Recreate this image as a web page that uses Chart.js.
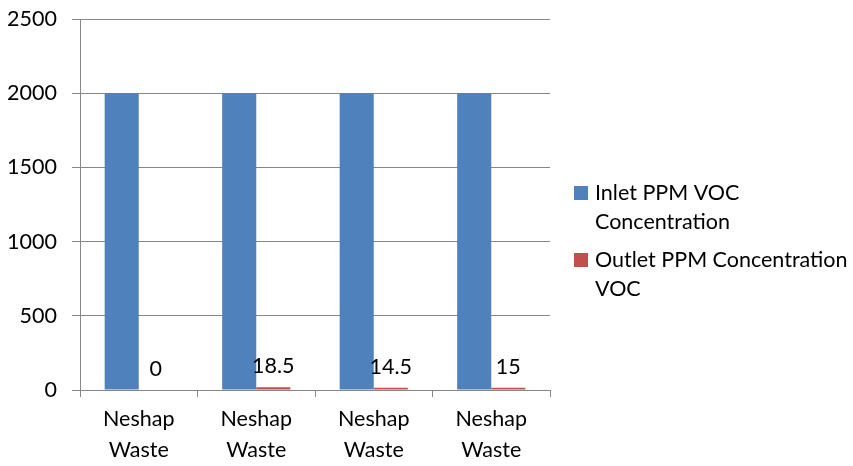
<!DOCTYPE html>
<html>
<head>
<meta charset="utf-8">
<script src="https://cdn.jsdelivr.net/npm/chart.js@4"></script>
<style>
  html, body { margin: 0; padding: 0; background: #fff; }
  #wrap { width: 853px; height: 466px; position: relative; }
</style>
</head>
<body>
<div id="wrap"><canvas id="chart"></canvas></div>
<script>
// data
const categories = [['Neshap', 'Waste'], ['Neshap', 'Waste'], ['Neshap', 'Waste'], ['Neshap', 'Waste']];
const inletValues = [2000, 2000, 2000, 2000];
const outletValues = [0, 18.5, 14.5, 15];
const seriesNames = [['Inlet PPM VOC', 'Concentration'], ['Outlet PPM Concentration', 'VOC']];
const yTicks = [0, 500, 1000, 1500, 2000, 2500];

const FONT = 'Lato, "Liberation Sans", sans-serif';
const FS = 21.5;
const colors = ['#4F81BD', '#C0504D'];

// value labels above the outlet bars
const valueLabels = {
  id: 'valueLabels',
  afterDatasetsDraw(chart) {
    const ctx = chart.ctx;
    const meta = chart.getDatasetMeta(1);
    ctx.save();
    ctx.font = FS + 'px ' + FONT;
    ctx.fillStyle = '#000';
    ctx.textAlign = 'center';
    ctx.textBaseline = 'middle';
    meta.data.forEach((bar, i) => {
      ctx.fillText(String(outletValues[i]), bar.x, bar.y - 21);
    });
    ctx.restore();
  }
};

// legend on the right with wrapped text
const sideLegend = {
  id: 'sideLegend',
  afterDraw(chart) {
    const ctx = chart.ctx;
    ctx.save();
    ctx.font = FS + 'px ' + FONT;
    ctx.textBaseline = 'middle';
    const starts = [193, 260];
    seriesNames.forEach((lines, i) => {
      const y = starts[i];
      ctx.fillStyle = colors[i];
      ctx.fillRect(574, y - 7, 14, 14);
      ctx.fillStyle = '#000';
      lines.forEach((t, j) => ctx.fillText(t, 595, y + j * 29));
    });
    ctx.restore();
  }
};

new Chart(document.getElementById('chart'), {
  type: 'bar',
  data: {
    labels: categories,
    datasets: [
      { label: seriesNames[0].join(' '), data: inletValues, backgroundColor: colors[0] },
      { label: seriesNames[1].join(' '), data: outletValues, backgroundColor: colors[1] }
    ]
  },
  options: {
    responsive: true,
    maintainAspectRatio: false,
    animation: false,
    datasets: { bar: { categoryPercentage: 0.58, barPercentage: 1 } },
    layout: { padding: { top: 19, right: 303, left: 0, bottom: 0 } },
    plugins: { legend: { display: false }, tooltip: { enabled: false } },
    scales: {
      x: {
        grid: { offset: true, drawOnChartArea: false, drawTicks: true, tickLength: 7, color: '#878787' },
        border: { color: '#878787' },
        ticks: { font: { family: FONT, size: FS, lineHeight: 1.45 }, color: '#000', padding: 6, maxRotation: 0 },
        afterFit(s) { s.height = 76; s.paddingLeft = 0; s.paddingRight = 0; }
      },
      y: {
        min: 0, max: 2500,
        afterBuildTicks(s) { s.ticks = yTicks.map(v => ({ value: v })); },
        grid: { color: '#878787', tickLength: 8 },
        border: { color: '#878787' },
        ticks: { font: { family: FONT, size: FS }, color: '#000', padding: 15, callback: v => String(v) },
        afterFit(s) { s.width = 80; s.paddingTop = 0; s.paddingBottom = 0; }
      }
    }
  },
  plugins: [valueLabels, sideLegend]
});
</script>
</body>
</html>
